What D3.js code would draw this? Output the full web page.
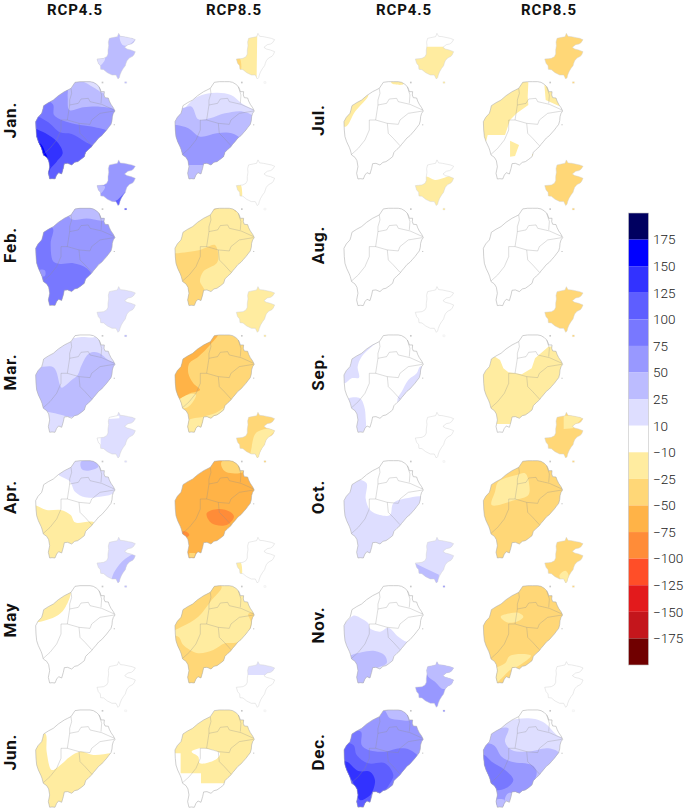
<!DOCTYPE html>
<html><head><meta charset="utf-8">
<script src="https://cdn.jsdelivr.net/npm/d3@7"></script>
<style>html,body{margin:0;padding:0;background:#fff}svg{display:block}</style>
</head><body><svg id="c" width="685" height="811"></svg>
<script>
// Legend
const bandColors=["#000060","#0000ff","#3232ff","#5e5eff","#7878ff","#9898ff","#bcbcff","#dedeff","#ffffff","#ffeca0","#ffd777","#ffb347","#ff8c38","#ff4e28","#e31a1c","#c4161c","#700000"];
const breaks=[-175,-150,-125,-100,-75,-50,-25,-10,10,25,50,75,100,125,150,175];
const tickLabels=["175","150","125","100","75","50","25","10","−10","−25","−50","−75","−100","−125","−150","−175"];
const months=[["Jan.","Feb.","Mar.","Apr.","May","Jun."],["Jul.","Aug.","Sep.","Oct.","Nov.","Dec."]];
const scenarios=["RCP4.5","RCP8.5","RCP4.5","RCP8.5"];

// Geography, in map units
const coast=[[135,157],[150,155],[165,155],[180,155],[190,157],[200,163],[207,170],[211,178],[213,185],[223,185],[222,195],[225,203],[235,204],[238,213],[243,223],[250,233],[255,243],[250,250],[247,260],[246,272],[243,283],[236,292],[230,300],[222,309],[215,317],[206,324],[197,335],[190,343],[185,350],[176,358],[167,367],[163,380],[153,388],[143,395],[134,397],[125,405],[113,400],[103,401],[100,415],[95,432],[86,428],[80,435],[75,447],[66,446],[59,447],[55,430],[59,410],[56,392],[50,382],[40,375],[36,360],[33,352],[25,335],[20,320],[18,300],[17,275],[24,262],[35,250],[38,240],[41,227],[55,218],[70,210],[85,197],[103,185],[113,180],[123,175]];
const islet1=[[215,155],[220,155],[220,160],[215,160]];
const islet2=[[251,283],[255,283],[255,286],[251,286]];
const prince=[[266,10],[271,19],[282,20],[296,23],[306,25],[316,29],[310,38],[304,42],[294,44],[284,52],[291,57],[303,60],[316,65],[312,74],[308,79],[298,84],[291,92],[288,100],[286,107],[280,115],[274,125],[270,135],[268,143],[264,147],[258,135],[246,135],[232,128],[221,119],[212,118],[211,107],[205,100],[201,87],[212,86],[221,85],[230,80],[234,72],[234,60],[236,47],[235,36],[238,25],[252,22],[262,20]];
const islet3=[[284,155],[290,155],[290,160],[284,160]];
const districts=[
 [[123,175],[125,190],[119,210],[119,225]],
 [[119,225],[145,220],[153,207],[175,205],[180,215],[215,223],[253,240]],
 [[207,170],[215,195],[213,220]],
 [[119,225],[112,270]],
 [[112,270],[93,270],[93,300],[80,330],[60,355],[40,373]],
 [[112,270],[147,280],[180,283],[185,270],[210,250],[253,243]],
 [[147,280],[150,310],[165,325],[185,347]]
];

// Estimated change (%) zones: first entry is the island's background value; a third element marks a straight-edged zone
const jan45Main=[[30],[15,[[150,150],[170,160],[195,175],[225,190],[235,150]]],[60,[[0,150],[110,170],[113,200],[118,240],[160,232],[210,230],[260,245],[300,500],[0,500]]],[90,[[0,200],[68,222],[72,255],[100,272],[150,285],[195,292],[240,310],[300,500],[0,500]]],[110,[[0,255],[25,260],[55,277],[90,307],[125,312],[165,335],[190,352],[200,500],[0,500]]],[135,[[0,295],[30,302],[60,318],[85,340],[98,370],[80,395],[62,415],[55,430],[0,430]]],[160,[[20,335],[35,345],[45,365],[52,385],[30,390]]]];
const jan45Prin=[[30],[15,[[270,18],[320,20],[295,45],[278,45]]],[15,[[195,85],[225,85],[213,105],[195,105]]]];
const jan85Main=[[0],[15,[[0,300],[50,230],[85,200],[140,188],[185,195],[220,222],[260,245],[300,300],[300,500],[0,500]]],[30,[[0,235],[37,235],[67,230],[87,268],[122,265],[167,250],[222,245],[260,268],[300,500],[0,500]]],[60,[[0,285],[22,285],[57,295],[92,320],[142,310],[187,310],[215,330],[200,400],[100,405],[50,405],[0,405]]]];
const jan85Prin=[[0],[-15,[[195,0],[264,0],[262,140],[262,155],[195,155]],1],[-30,[[195,80],[211,83],[213,125],[195,125]]]];
const feb45Main=[[60],[30,[[110,160],[125,188],[170,186],[225,190],[240,150],[110,150]]],[90,[[0,215],[68,215],[62,260],[70,315],[90,322],[130,320],[170,335],[190,365],[200,500],[0,500]]],[60,[[30,340],[45,342],[45,358],[30,358]]]];
const feb45Prin=[[60],[30,[[195,90],[225,90],[213,110],[195,110]]],[110,[[245,137],[262,130],[290,105],[285,150],[245,150]]],[110,[[280,150],[295,150],[295,165],[280,165]],1]];
const feb85Main=[[-15],[-30,[[120,172],[135,160],[182,150],[200,166],[200,140],[110,140]]],[-30,[[0,290],[20,290],[92,280],[112,272],[137,265],[147,300],[142,320],[102,345],[92,375],[100,390],[110,410],[110,460],[0,460]]]];
const feb85Prin=[[0],[-15,[[195,80],[212,80],[216,125],[195,125]]]];
const mar45Main=[[15],[0,[[125,163],[155,161],[195,160],[190,145],[120,145]]],[30,[[0,258],[40,250],[72,253],[90,305],[95,313],[125,290],[143,275],[155,245],[178,210],[205,208],[235,230],[262,245],[262,350],[190,350],[165,380],[130,400],[75,390],[45,383],[0,370]]]];
const mar45Prin=[[15],[30,[[280,150],[295,150],[295,165],[280,165]],1]];
const mar85Main=[[-30],[-60,[[147,150],[122,185],[87,220],[60,240],[57,270],[72,300],[92,320],[62,330],[34,345],[0,350],[0,200],[100,145]]],[-15,[[30,350],[65,332],[80,335],[55,372],[30,372]]],[-15,[[55,412],[102,400],[137,390],[175,368],[190,370],[200,460],[40,460]]]];
const mar85Prin=[[-15]];
const apr45Main=[[0],[15,[[82,193],[120,218],[135,248],[165,265],[210,263],[245,256],[262,243],[262,150],[120,150],[105,175]]],[30,[[153,158],[195,155],[205,173],[170,185],[155,180]]],[-15,[[0,285],[20,290],[50,303],[92,303],[122,318],[135,340],[195,342],[200,470],[0,470]]]];
const apr45Prin=[[15],[0,[[236,20],[268,20],[268,28],[236,30]],1],[0,[[200,85],[212,85],[212,118],[200,118]],1]];
const apr85Main=[[-60],[-30,[[157,158],[192,155],[222,188],[172,190],[157,173]]],[-90,[[112,313],[147,300],[182,308],[194,323],[172,348],[127,343]]],[-90,[[37,368],[52,368],[60,378],[47,386]]],[-30,[[60,432],[78,432],[75,445],[60,445]],1]];
const apr85Prin=[[-30],[-15,[[262,70],[320,60],[290,95],[275,150],[245,150],[247,115]]]];
const may45Main=[[0],[-15,[[122,170],[107,218],[85,243],[50,258],[20,265],[0,265],[0,200],[100,150]]]];
const may45Prin=[[15],[30,[[245,135],[255,110],[285,75],[320,60],[320,150],[295,165],[245,165]]]];
const may85Main=[[-15],[-30,[[157,158],[127,198],[87,248],[37,278],[0,290],[0,200],[120,140]]],[-30,[[0,310],[27,308],[42,333],[72,353],[92,358],[132,348],[167,328],[205,325],[235,295],[245,265],[237,240],[270,240],[270,470],[0,470]]]];
const may85Prin=[[0],[-15,[[195,80],[212,80],[216,125],[195,125]]]];
const jun45Main=[[0],[-15,[[45,225],[50,280],[65,335],[85,325],[120,295],[150,280],[190,290],[245,285],[270,285],[270,470],[0,470],[0,225]]]];
const jun45Prin=[[0]];
const jun85Main=[[0],[-15,[[0,0],[300,0],[300,375],[95,375],[95,345],[34,345],[34,285],[0,285]],1],[0,[[67,280],[97,270],[152,285],[142,302],[92,315],[87,295]]]];
const jun85Prin=[[0],[15,[[225,0],[330,0],[330,30],[300,50],[230,50]],1]];
const jul45Main=[[0],[-15,[[90,195],[50,245],[22,290],[0,280],[0,200],[60,190]]],[-15,[[160,150],[190,150],[195,163],[160,160]]]];
const jul45Prin=[[0],[-15,[[195,50],[330,50],[330,170],[195,170]],1]];
const jul85Main=[[0],[-15,[[152,157],[150,200],[152,225],[117,250],[97,270],[82,315],[27,315],[0,315],[0,200],[120,150]],1],[-15,[[200,165],[204,210],[244,228],[250,200],[225,170]],1],[-15,[[97,332],[124,345],[112,378],[97,380]],1],[-15,[[163,372],[172,372],[172,385],[163,385]],1],[-15,[[18,312],[30,315],[25,335],[18,335]],1]];
const jul85Prin=[[-30]];
const aug45Main=[[0]];
const aug45Prin=[[0],[-15,[[195,65],[235,60],[260,70],[330,58],[330,170],[195,170]]]];
const aug85Main=[[0]];
const aug85Prin=[[-30]];
const sep45Main=[[0],[15,[[125,170],[100,190],[70,220],[58,250],[62,283],[40,285],[20,300],[0,300],[0,200],[100,160]]],[15,[[245,250],[235,270],[210,290],[190,325],[178,345],[180,360],[260,300],[262,250]]],[15,[[32,345],[65,345],[78,370],[82,405],[80,440],[40,450],[20,360]]]];
const sep45Prin=[[0]];
const sep85Main=[[0],[-15,[[52,220],[67,230],[77,255],[92,267],[132,273],[162,255],[172,225],[212,190],[270,185],[270,422],[0,422],[0,220]],1]];
const sep85Prin=[[-30]];
const oct45Main=[[0],[15,[[0,230],[35,228],[65,213],[85,223],[82,268],[95,303],[125,318],[155,318],[165,283],[205,268],[262,268],[270,470],[0,470]]]];
const oct45Prin=[[0]];
const oct85Main=[[-30],[-15,[[62,218],[117,198],[142,193],[154,223],[152,258],[112,273],[42,288],[52,248]]]];
const oct85Prin=[[-30],[-15,[[258,20],[320,20],[285,58],[258,60]],1]];
const nov45Main=[[0],[15,[[0,265],[20,265],[45,245],[65,251],[90,268],[95,283],[125,293],[150,281],[180,308],[205,323],[230,320],[230,470],[0,470]]],[30,[[30,372],[70,355],[110,351],[140,365],[145,388],[115,403],[100,415],[95,450],[40,460]]]];
const nov45Prin=[[15],[30,[[195,85],[215,95],[272,122],[270,155],[195,155]],1],[60,[[280,150],[295,150],[295,165],[280,165]],1]];
const nov85Main=[[-30],[-15,[[69,248],[97,238],[122,236],[137,248],[117,263],[87,265]]],[-15,[[82,388],[97,365],[160,365],[127,393],[97,408],[72,433],[50,450],[40,412]]]];
const nov85Prin=[[-30],[-15,[[245,125],[263,110],[273,125],[263,150]]]];
const dec45Main=[[60],[30,[[140,150],[200,150],[215,185],[185,185],[155,180],[145,165]]],[90,[[0,225],[40,220],[68,220],[70,260],[90,275],[140,280],[185,270],[215,275],[250,310],[230,500],[0,500]]],[110,[[0,260],[45,260],[55,290],[90,315],[140,315],[165,350],[155,375],[130,405],[100,410],[100,470],[0,470]]],[135,[[0,315],[25,310],[60,338],[95,340],[110,365],[100,405],[90,415],[65,425],[50,385],[35,360],[0,360]]]];
const dec45Prin=[[60],[30,[[225,0],[330,0],[330,75],[285,92],[260,70],[240,55],[235,40]]]];
const dec85Main=[[0],[15,[[60,200],[117,182],[172,182],[202,195],[237,230],[262,245],[262,400],[0,400],[0,200]]],[30,[[0,240],[45,215],[92,210],[82,250],[102,275],[152,280],[212,270],[250,290],[250,470],[0,470]]],[60,[[0,260],[47,260],[72,295],[102,310],[162,320],[177,340],[162,380],[132,405],[92,405],[82,420],[75,500],[0,500]]],[90,[[0,290],[20,290],[42,310],[82,335],[107,365],[92,385],[52,395],[30,360],[0,330]]],[30,[[55,425],[80,425],[75,450],[55,450]]]];
const dec85Prin=[[0]];

const panelsMain=[[jan45Main,feb45Main,mar45Main,apr45Main,may45Main,jun45Main],[jan85Main,feb85Main,mar85Main,apr85Main,may85Main,jun85Main],[jul45Main,aug45Main,sep45Main,oct45Main,nov45Main,dec45Main],[jul85Main,aug85Main,sep85Main,oct85Main,nov85Main,dec85Main]];
const panelsPrin=[[jan45Prin,feb45Prin,mar45Prin,apr45Prin,may45Prin,jun45Prin],[jan85Prin,feb85Prin,mar85Prin,apr85Prin,may85Prin,jun85Prin],[jul45Prin,aug45Prin,sep45Prin,oct45Prin,nov45Prin,dec45Prin],[jul85Prin,aug85Prin,sep85Prin,oct85Prin,nov85Prin,dec85Prin]];

const svg=d3.select("#c");
const color=d3.scaleThreshold().domain(breaks).range(bandColors.slice().reverse());
const mapX=d3.scaleLinear().domain([0,765]).range([0,255]);
const mapY=d3.scaleLinear().domain([0,765]).range([0,255]);
const line=d3.line().x(d=>mapX(d[0])).y(d=>mapY(d[1]));
const smooth=d3.line().x(d=>mapX(d[0])).y(d=>mapY(d[1])).curve(d3.curveCatmullRomClosed.alpha(0.5));
const ring=p=>line(p)+"Z";
const colX=[30,169.3,338.3,477.7], rowY=[30,156.6,283.3,409,534,658.3];
const prinShift=[0,0,10,0];

const defs=svg.append("defs");
const blur=defs.append("filter").attr("id","soft").attr("x","-5%").attr("y","-5%").attr("width","110%").attr("height","110%").attr("color-interpolation-filters","sRGB");
blur.append("feGaussianBlur").attr("stdDeviation",0.4);
defs.append("clipPath").attr("id","clipMain").append("path").attr("d",ring(coast));
defs.append("clipPath").attr("id","clipPrin").append("path").attr("d",ring(prince)+ring(islet3));

function drawZones(g,zones,clip){
  const c=g.append("g").attr("clip-path",`url(#${clip})`);
  c.append("rect").attr("x",0).attr("y",0).attr("width",200).attr("height",200).attr("fill",color(zones[0][0]));
  c.selectAll("path.z").data(zones.slice(1)).join("path").attr("class","z").attr("d",d=>d[2]?ring(d[1]):smooth(d[1])).attr("fill",d=>color(d[0]));
}
panelsMain.forEach((col,ci)=>col.forEach((zones,ri)=>{
  const g=svg.append("g").attr("transform",`translate(${colX[ci]},${rowY[ri]})`).attr("filter","url(#soft)");
  const gp=g.append("g").attr("transform",`translate(${prinShift[ci]},0)`);
  drawZones(gp,panelsPrin[ci][ri],"clipPrin");
  gp.append("path").attr("d",ring(prince)).attr("fill","none").attr("stroke","#cfcfcf").attr("stroke-width",0.45);
  gp.append("path").attr("d",ring(islet3)).attr("fill","none").attr("stroke","#dddddd").attr("stroke-width",0.3);
  drawZones(g,zones,"clipMain");
  g.selectAll("path.d").data(districts).join("path").attr("class","d").attr("d",line).attr("fill","none").attr("stroke","#8c8c8c").attr("stroke-opacity",0.6).attr("stroke-width",0.5);
  g.append("path").attr("d",ring(coast)).attr("fill","none").attr("stroke","#a8a8a8").attr("stroke-width",0.55);
  g.selectAll("path.i").data([islet1,islet2]).join("path").attr("class","i").attr("d",ring).attr("fill","#c8c8c8");
}));

// Titles
const titleX=[75,234,404,549];
svg.selectAll("text.t").data(scenarios).join("text").attr("class","t").attr("x",(d,i)=>titleX[i]).attr("y",14.5).attr("text-anchor","middle")
 .attr("font-family","Roboto").attr("font-weight",700).attr("font-size",15).attr("letter-spacing",0.9).attr("fill","#111").text(d=>d);
const labX=[16,324], labY=[[120,245,372,497,620,752],[120,245,372,497,625,752]];
months.forEach((ms,c)=>ms.forEach((m,r)=>{
  svg.append("text").attr("transform",`translate(${labX[c]},${labY[c][r]}) rotate(-90)`).attr("text-anchor","middle")
   .attr("font-family","Roboto").attr("font-weight",700).attr("font-size",17).attr("letter-spacing",0.8).attr("fill","#111").text(m);
}));

// Colour bar
const barTop=213, barBottom=665, barX=628.5, barW=20;
const barY=d3.scaleBand().domain(bandColors).range([barTop,barBottom]);
svg.append("g").selectAll("rect").data(bandColors).join("rect").attr("x",barX).attr("y",d=>barY(d)).attr("width",barW).attr("height",barY.bandwidth()).attr("fill",d=>d);
svg.append("rect").attr("x",barX).attr("y",barTop).attr("width",barW).attr("height",barBottom-barTop).attr("fill","none").attr("stroke","#c4c4c4").attr("stroke-width",0.6);
const bw=barY.bandwidth();
const tickY=d3.scalePoint().domain(tickLabels).range([barTop+bw,barBottom-bw]);
const ax=svg.append("g").attr("transform",`translate(${barX+barW+4.5},0)`).call(d3.axisRight(tickY).tickSize(0).tickPadding(0));
ax.select(".domain").remove();
ax.selectAll("text").attr("font-family","Roboto").attr("font-weight",300).attr("font-size",13.5).attr("fill","#222");
</script></body></html>
